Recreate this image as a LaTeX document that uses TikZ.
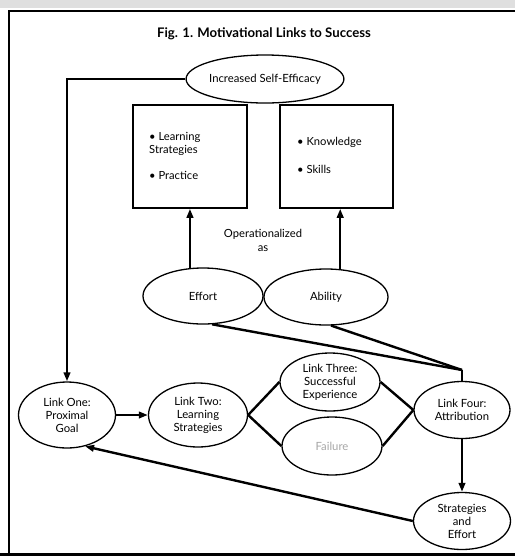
\documentclass[tikz,border=0pt]{standalone}
\usepackage{fontspec}
\setmainfont{Lato}
\usetikzlibrary{shapes.geometric,arrows.meta}
\begin{document}
\begin{tikzpicture}[x=1pt,y=-1pt,
  ell/.style={draw, ellipse, line width=1.3pt, inner sep=0pt, align=center,
    font=\fontsize{11.3}{13}\selectfont},
  boxnode/.style={draw, line width=1.6pt, inner sep=0pt},
  conn/.style={line width=2.4pt},
  arr/.style={conn, -{Triangle[length=9pt,width=6.5pt]}},
  txt/.style={font=\fontsize{11.2}{13}\selectfont, inner sep=0pt}
]
\useasboundingbox (0,0) rectangle (515,558);
\fill[gray!25] (0,0) rectangle (515,8);
% frame
\draw[line width=1.8pt] (9,553) -- (9,11) -- (520,11);
\draw[line width=3pt] (0,554) -- (520,554);

\node[font=\bfseries\fontsize{13.2}{15}\selectfont] (title) at (264,34) {Fig. 1. Motivational Links to Success};

% nodes
\node[ell, minimum width=154pt, minimum height=48pt] (se) at (265,79) {Increased Self-Efficacy};
\node[boxnode, minimum width=114pt, minimum height=103pt] (lbox) at (190,156.5) {};
\node[boxnode, minimum width=113pt, minimum height=103pt] (rbox) at (336.5,156.5) {};
\node[txt, anchor=west] (lb1) at (149,137) {\textbullet\ Learning};
\node[txt, anchor=west] (lb2) at (149,150) {Strategies};
\node[txt, anchor=west] (lb3) at (149,175) {\textbullet\ Practice};
\node[txt, anchor=west] (rb1) at (297,142) {\textbullet\ Knowledge};
\node[txt, anchor=west] (rb2) at (297,169) {\textbullet\ Skills};
\node[txt, align=center, font=\fontsize{11.2}{14}\selectfont] (op) at (263,240) {Operationalized\\as};

\node[ell, minimum width=120pt, minimum height=56pt] (eff) at (203,296) {Effort};
\node[ell, minimum width=124pt, minimum height=56pt] (abl) at (326,297) {Ability};

\node[ell, minimum width=97pt, minimum height=66pt] (l1) at (67,415) {Link One:\\Proximal\\Goal};
\node[ell, minimum width=99pt, minimum height=64pt] (l2) at (198,415) {Link Two:\\Learning\\Strategies};
\node[ell, minimum width=100pt, minimum height=58pt] (l3) at (330,382) {Link Three:\\Successful\\Experience};
\node[ell, minimum width=100pt, minimum height=58pt, text=gray!70] (fail) at (332,446) {Failure};
\node[ell, minimum width=96pt, minimum height=57pt] (l4) at (462,410) {Link Four:\\Attribution};
\node[ell, minimum width=97pt, minimum height=57pt] (sae) at (462,521) {Strategies\\and\\Effort};

\coordinate (j) at (462,370);

% connectors
\draw[arr] (se.west) -| (l1.north);
\draw[arr] (eff.115) -- (eff.115 |- lbox.south);
\draw[arr] (abl.63) -- (abl.63 |- rbox.south);
\draw[conn] (eff.-72) -- (j);
\draw[conn] (abl.-80) -- (j);
\draw[conn] (j) -- (l4.north);
\draw[arr] (l1.east) -- (l2.west);
\draw[conn] (l2.east) -- (l3.west);
\draw[conn] (l2.east) -- (fail.west);
\draw[conn] (l3.east) -- (l4.west);
\draw[conn] (fail.east) -- (l4.west);
\draw[arr] (l4.south) -- (sae.north);
\draw[arr] (sae.west) -- (l1.-60);
\end{tikzpicture}
\end{document}
